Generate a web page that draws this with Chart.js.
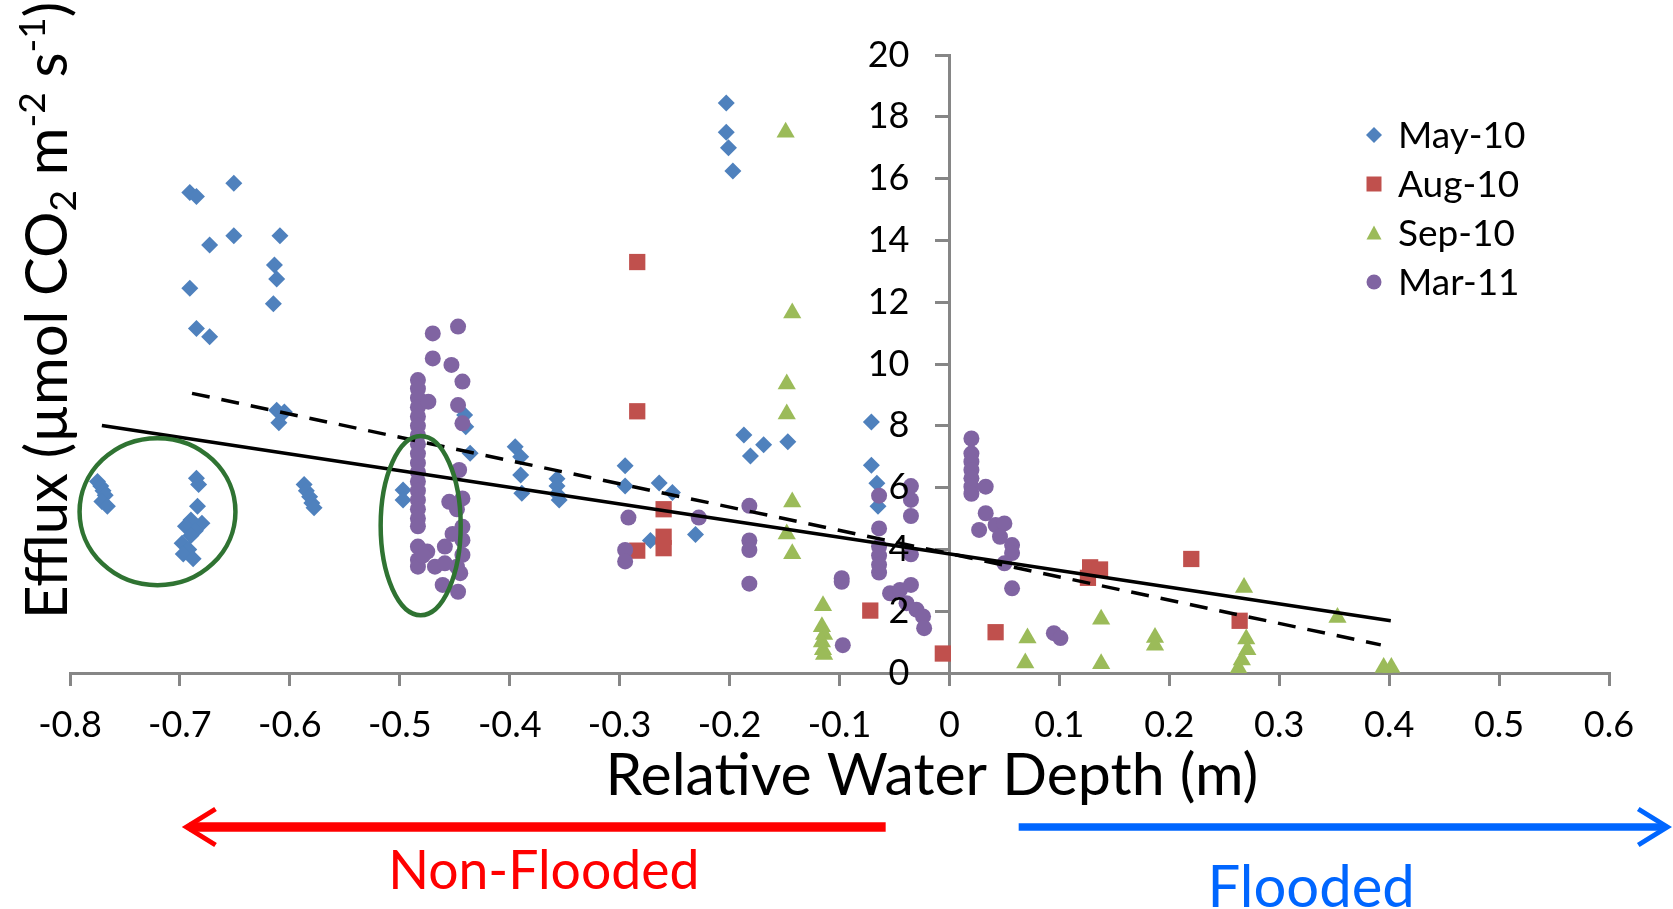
<!DOCTYPE html>
<html>
<head>
<meta charset="utf-8">
<script src="https://cdn.jsdelivr.net/npm/chart.js@4.4.1/dist/chart.umd.min.js"></script>
<style>
  html, body { margin: 0; padding: 0; background: #fff; }
  #wrap { width: 1673px; height: 909px; }
</style>
</head>
<body>
<div id="wrap"><canvas id="effluxChart"></canvas></div>
<script>
// relative water depth (m) / efflux values
const mayX = [-0.691, -0.685, -0.651, -0.673, -0.651, -0.609, -0.614, -0.612, -0.615, -0.691, -0.685, -0.673,
  -0.612, -0.605, -0.610, -0.775, -0.772, -0.770, -0.768, -0.771, -0.766, -0.685, -0.683, -0.684, -0.680,
  -0.690, -0.695, -0.686, -0.690, -0.698, -0.692, -0.697, -0.688, -0.587, -0.585, -0.582, -0.580, -0.578,
  -0.497, -0.497, -0.441, -0.440, -0.436, -0.395, -0.390, -0.390, -0.389, -0.357, -0.357, -0.357, -0.355,
  -0.295, -0.295, -0.264, -0.252, -0.272, -0.231, -0.203, -0.203, -0.201, -0.197, -0.187, -0.181, -0.169,
  -0.147, -0.071, -0.071, -0.066, -0.065];
const mayY = [15.55, 15.42, 15.85, 13.85, 14.15, 14.15, 13.2, 12.75, 11.95, 12.45, 11.15, 10.88,
  8.5, 8.45, 8.1, 6.2, 6.05, 5.9, 5.75, 5.55, 5.4, 6.3, 6.1, 5.4, 4.85,
  4.95, 4.75, 4.6, 4.45, 4.2, 4.0, 3.85, 3.7, 6.1, 5.9, 5.7, 5.5, 5.35,
  5.92, 5.6, 8.35, 7.97, 7.11, 7.32, 7.0, 6.41, 5.82, 6.29, 6.05, 5.8, 5.6,
  6.71, 6.05, 6.15, 5.84, 4.29, 4.48, 18.45, 17.5, 17.0, 16.25, 7.7, 7.02, 7.39,
  7.48, 8.12, 6.72, 6.14, 5.4];

const augX = [-0.284, -0.284, -0.284, -0.260, -0.260, -0.260, -0.072, -0.006, 0.042, 0.126, 0.128, 0.137, 0.220, 0.264];
const augY = [13.3, 8.47, 3.96, 5.3, 4.41, 4.04, 2.02, 0.63, 1.32, 3.08, 3.42, 3.35, 3.69, 1.69];

const sepX = [-0.149, -0.143, -0.148, -0.148, -0.143, -0.148, -0.143, -0.115, -0.116, -0.114, -0.116, -0.115,
  -0.114, 0.071, 0.069, 0.138, 0.138, 0.187, 0.187, 0.268, 0.270, 0.271, 0.266, 0.263, 0.353, 0.395, 0.402];
const sepY = [17.5, 11.65, 9.35, 8.38, 5.53, 4.5, 3.86, 2.18, 1.5, 1.25, 1.0, 0.75,
  0.6, 1.13, 0.32, 1.74, 0.3, 1.15, 0.9, 2.77, 1.1, 0.75, 0.42, 0.15, 1.8, 0.18, 0.18];

const marX = [-0.4835, -0.4835, -0.4835, -0.4835, -0.4835, -0.4835, -0.4835, -0.4835, -0.4835, -0.4835,
  -0.4835, -0.4835, -0.4835, -0.4835, -0.4835, -0.4835, -0.4835, -0.474, -0.4835, -0.4835, -0.4835,
  -0.475, -0.468, -0.479, -0.470, -0.470, -0.447, -0.453, -0.443, -0.447, -0.443, -0.446, -0.443, -0.455,
  -0.448, -0.443, -0.452, -0.443, -0.459, -0.443, -0.448, -0.459, -0.445, -0.461, -0.447,
  -0.292, -0.295, -0.295, -0.228, -0.182, -0.182, -0.182, -0.182, -0.098, -0.098, -0.097,
  -0.064, -0.064, -0.064, -0.064, -0.064, -0.064, -0.035, -0.035, -0.035, -0.035,
  -0.054, -0.045, -0.035, -0.039, -0.030, -0.024, -0.023,
  0.020, 0.020, 0.020, 0.020, 0.020, 0.020, 0.020, 0.033, 0.033, 0.027, 0.042, 0.050, 0.046,
  0.057, 0.057, 0.050, 0.057, 0.095, 0.101];
const marY = [9.48, 9.2, 8.9, 8.6, 8.3, 8.0, 7.7, 7.4, 7.1, 6.8,
  6.5, 6.2, 5.9, 5.6, 5.3, 5.0, 4.75, 8.78, 4.09, 3.66, 3.44,
  3.93, 3.44, 3.8, 10.99, 10.18, 11.21, 9.97, 9.43, 8.67, 8.08, 6.57, 5.65, 5.54,
  5.3, 4.73, 4.5, 4.3, 4.09, 3.82, 3.44, 3.55, 3.23, 2.85, 2.63,
  5.03, 3.98, 3.61, 5.03, 5.41, 4.29, 3.98, 2.89, 3.07, 2.95, 0.9,
  5.74, 4.68, 4.09, 3.8, 3.5, 3.25, 6.05, 5.6, 5.08, 3.84,
  2.58, 2.69, 2.85, 2.26, 2.05, 1.83, 1.45,
  7.59, 7.1, 6.84, 6.57, 6.3, 6.03, 5.8, 6.03, 5.17, 4.63, 4.79, 4.84, 4.41,
  4.14, 3.88, 3.55, 2.74, 1.29, 1.13];

// trend line end points
const solidX = [-0.771, 0.4015];
const solidY = [8.01, 1.69];
const dashX = [-0.689, 0.3924];
const dashY = [9.05, 0.91];

const xTicksMin = -0.8, xTicksMax = 0.6;
const yTicksMin = 0, yTicksMax = 20;

// groups circled by hand in the figure (data units)
const circledGroups = [
  { x: -0.7204, y: 5.22, rx: 0.0709, ry: 2.38 },
  { x: -0.481, y: 4.77, rx: 0.0364, ry: 2.9 }
];

const sideArrows = [
  { from: -0.058, to: -0.694, label: 'Non-Flooded', labelAt: -0.369, color: '#FF0000', width: 9.5, textDy: 216, size: 53.5 },
  { from: 0.063, to: 0.653, label: 'Flooded', labelAt: 0.329, color: '#0066FF', width: 7.5, textDy: 234, size: 58 }
];

const FONT = 'Lato, "Open Sans", sans-serif';

const zip = (xs, ys) => xs.map((v, i) => ({ x: v, y: ys[i] }));

const series = [
  { label: 'May-10', xs: mayX, ys: mayY, color: '#4F81BD', style: 'rectRot', r: 8.5, order: 4 },
  { label: 'Aug-10', xs: augX, ys: augY, color: '#C0504D', style: 'rect', r: 11.5, order: 3 },
  { label: 'Sep-10', xs: sepX, ys: sepY, color: '#9BBB59', style: 'triangle', r: 10.5, order: 2 },
  { label: 'Mar-11', xs: marX, ys: marY, color: '#8064A2', style: 'circle', r: 8, order: 1 }
];

function markerPath(ctx, style, cx, cy, r) {
  ctx.beginPath();
  if (style === 'rectRot') {
    ctx.moveTo(cx - r, cy); ctx.lineTo(cx, cy - r); ctx.lineTo(cx + r, cy); ctx.lineTo(cx, cy + r);
  } else if (style === 'rect') {
    ctx.rect(cx - r, cy - r, 2 * r, 2 * r);
  } else if (style === 'triangle') {
    ctx.moveTo(cx, cy - r); ctx.lineTo(cx + r, cy + r * 0.85); ctx.lineTo(cx - r, cy + r * 0.85);
  } else {
    ctx.arc(cx, cy, r, 0, Math.PI * 2);
  }
  ctx.closePath();
  ctx.fill();
}

function drawArrow(ctx, x1, x2, yy, color, width) {
  const dir = Math.sign(x2 - x1);
  ctx.strokeStyle = color;
  ctx.lineWidth = width;
  ctx.lineCap = 'butt';
  ctx.beginPath();
  ctx.moveTo(x1, yy);
  ctx.lineTo(x2 - dir * 3, yy);
  ctx.stroke();
  ctx.lineWidth = 5;
  ctx.lineJoin = 'miter';
  ctx.beginPath();
  ctx.moveTo(x2 - dir * 29, yy - 18);
  ctx.lineTo(x2, yy);
  ctx.lineTo(x2 - dir * 29, yy + 18);
  ctx.stroke();
}

const decorations = {
  id: 'decorations',
  afterDatasetsDraw(chart) {
    const { ctx, scales: { x, y } } = chart;
    ctx.save();
    ctx.strokeStyle = '#2F7332';
    ctx.lineWidth = 4.5;
    circledGroups.forEach(g => {
      const cx = x.getPixelForValue(g.x), cy = y.getPixelForValue(g.y);
      const rx = Math.abs(x.getPixelForValue(g.x + g.rx) - cx);
      const ry = Math.abs(y.getPixelForValue(g.y + g.ry) - cy);
      ctx.beginPath();
      ctx.ellipse(cx, cy, rx, ry, 0, 0, Math.PI * 2);
      ctx.stroke();
    });
    ctx.restore();
  },
  afterDraw(chart) {
    const { ctx, chartArea: area, scales: { x, y } } = chart;
    ctx.save();

    // y tick labels, set off to the left of the centred axis
    const axisX = x.getPixelForValue(0);
    ctx.fillStyle = '#000';
    ctx.font = '36px ' + FONT;
    ctx.textAlign = 'right';
    ctx.textBaseline = 'middle';
    y.ticks.forEach(t => {
      ctx.fillText(String(t.value), axisX - 40, y.getPixelForValue(t.value));
    });

    // y title, with sub/superscripts
    const parts = [['Efflux (\u00b5mol CO', 0], ['2', 1], [' m', 0], ['-2', -1], [' s', 0], ['-1', -1], [')', 0]];
    const big = 58, small = 37;
    ctx.translate(67, area.bottom - 54);
    ctx.rotate(-Math.PI / 2);
    ctx.textBaseline = 'alphabetic';
    ctx.textAlign = 'left';
    let pos = 0;
    parts.forEach(([t, k]) => {
      ctx.font = (k ? small : big) + 'px ' + FONT;
      const dy = k === 1 ? 9 : k === -1 ? -22 : 0;
      ctx.fillText(t, pos, dy);
      pos += ctx.measureText(t).width;
    });
    ctx.setTransform(1, 0, 0, 1, 0, 0);

    // x title
    ctx.font = '59px ' + FONT;
    ctx.textAlign = 'center';
    ctx.fillText('Relative Water Depth (m)', x.getPixelForValue(-0.016), area.bottom + 122);

    // flooded / non-flooded arrows
    sideArrows.forEach(a => {
      drawArrow(ctx, x.getPixelForValue(a.from), x.getPixelForValue(a.to), area.bottom + 154, a.color, a.width);
      ctx.fillStyle = a.color;
      ctx.font = a.size + 'px ' + FONT;
      ctx.fillText(a.label, x.getPixelForValue(a.labelAt), area.bottom + a.textDy);
    });

    // legend
    const lx = area.right - 235;
    ctx.textAlign = 'left';
    ctx.textBaseline = 'middle';
    ctx.font = '37px ' + FONT;
    series.forEach((s, i) => {
      const ly = area.top + 80 + i * 49;
      ctx.fillStyle = s.color;
      markerPath(ctx, s.style, lx, ly, s.style === 'rect' ? 7.5 : s.style === 'rectRot' ? 8 : 7.5);
      ctx.fillStyle = '#000';
      ctx.fillText(s.label, lx + 24, ly + 1);
    });
    ctx.restore();
  }
};

const datasets = series.map(s => ({
  label: s.label,
  data: zip(s.xs, s.ys),
  backgroundColor: s.color,
  borderColor: s.color,
  borderWidth: 0,
  pointStyle: s.style,
  pointRadius: s.r,
  order: s.order
}));

datasets.push({
  type: 'line',
  label: 'trend solid',
  data: zip(solidX, solidY),
  borderColor: '#000',
  borderWidth: 3.5,
  pointRadius: 0,
  fill: false,
  order: 0
});
datasets.push({
  type: 'line',
  label: 'trend dashed',
  data: zip(dashX, dashY),
  borderColor: '#000',
  borderWidth: 3.5,
  borderDash: [18, 12],
  pointRadius: 0,
  fill: false,
  order: 0
});

new Chart(document.getElementById('effluxChart'), {
  type: 'scatter',
  data: { datasets },
  options: {
    responsive: true,
    maintainAspectRatio: false,
    animation: false,
    events: [],
    layout: { padding: { left: 70, right: 64, top: 55, bottom: 160 } },
    plugins: {
      legend: { display: false },
      tooltip: { enabled: false }
    },
    scales: {
      x: {
        type: 'linear',
        position: 'bottom',
        min: xTicksMin,
        max: xTicksMax,
        afterFit(scale) { scale.height = 76; },
        border: { display: true, color: '#868686', width: 3 },
        grid: { drawOnChartArea: false, drawTicks: true, tickLength: 13, color: '#868686', lineWidth: 3 },
        ticks: {
          stepSize: 0.1,
          padding: 18,
          color: '#000',
          font: { family: FONT, size: 36 },
          callback: v => String(Math.round(v * 10) / 10)
        }
      },
      y: {
        type: 'linear',
        position: { x: 0 },
        min: yTicksMin,
        max: yTicksMax,
        border: { display: true, color: '#868686', width: 3 },
        grid: { drawOnChartArea: false, drawTicks: true, tickLength: 13, color: '#868686', lineWidth: 3 },
        ticks: {
          stepSize: 2,
          display: false,
          font: { family: FONT, size: 36 }
        }
      }
    }
  },
  plugins: [decorations]
});
</script>
</body>
</html>
